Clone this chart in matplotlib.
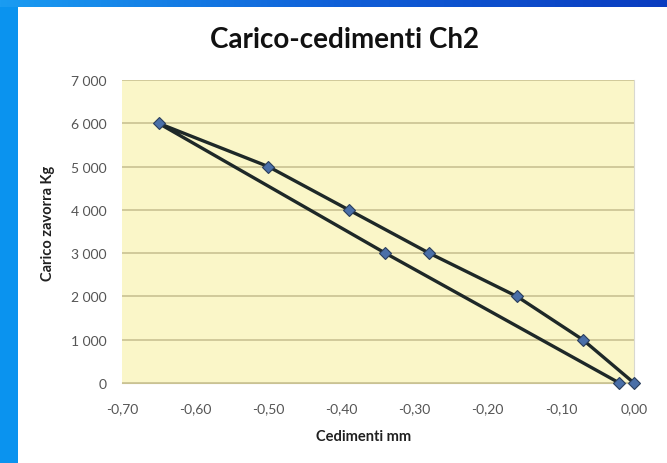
"""Carico-cedimenti Ch2: load vs settlement curve."""

import numpy as np
import matplotlib.pyplot as plt
from matplotlib.colors import LinearSegmentedColormap
from matplotlib.ticker import FuncFormatter

plt.rcParams['font.family'] = ['Lato', 'DejaVu Sans']

# settlement (mm) and ballast load (kg), loading then unloading
cedimenti = [0.00, -0.07, -0.16, -0.28, -0.39, -0.50, -0.65, -0.34, -0.02]
carico = [0, 1000, 2000, 3000, 4000, 5000, 6000, 3000, 0]

x_ticks = [-0.70, -0.60, -0.50, -0.40, -0.30, -0.20, -0.10, 0.00]
y_ticks = [0, 1000, 2000, 3000, 4000, 5000, 6000, 7000]


def fmt_x(v, _):
    return f"{v:.2f}".replace(".", ",").replace("-0,00", "0,00")


def fmt_y(v, _):
    return f"{int(v):,}".replace(",", " ")


fig = plt.figure(figsize=(6.67, 4.64), dpi=100)
fig.patch.set_facecolor("white")

# blue frame: left strip and gradient band on top
left = fig.add_axes([0, 0, 18 / 667, 1])
left.set_axis_off()
left.add_patch(plt.Rectangle((0, 0), 1, 1, color="#0a93ef", transform=left.transAxes))
top = fig.add_axes([0, 1 - 8 / 464, 1, 8 / 464])
top.set_axis_off()
grad = np.linspace(0, 1, 256)[None, :]
cm = LinearSegmentedColormap.from_list("band", ["#1a9cf2", "#1060d8", "#0a3cc0"])
top.imshow(grad, aspect="auto", cmap=cm, extent=(0, 1, 0, 1))

ax = fig.add_axes([122 / 667, 1 - 384 / 464, (634 - 122) / 667, (384 - 81) / 464])
ax.set_facecolor("#faf6c8")
ax.plot(cedimenti, carico, color="#1e2828", lw=2.4, marker="D", ms=6.5,
        mfc="#4a6fa8", mec="#2a3e5c", mew=0.8, zorder=3, clip_on=False)

ax.set_xlim(-0.70, 0.00)
ax.set_ylim(0, 7000)
ax.set_xticks(x_ticks)
ax.set_yticks(y_ticks)
ax.xaxis.set_major_formatter(FuncFormatter(fmt_x))
ax.yaxis.set_major_formatter(FuncFormatter(fmt_y))
ax.grid(axis="y", color="#c9c293", lw=1.2)
ax.set_axisbelow(True)
ax.tick_params(length=0, labelsize=10, colors="#555555")
ax.tick_params(axis="x", pad=14)
ax.tick_params(axis="y", pad=11)
for side in ("top", "left"):
    ax.spines[side].set_visible(False)
ax.spines["right"].set_color("#d8d8d0")
ax.spines["bottom"].set_color("#c9c293")

ax.set_xlabel("Cedimenti mm", fontsize=10.5, fontweight="bold", color="#202020", va="center")
ax.xaxis.set_label_coords((364 - 122) / 512, (384 - 437) / 303)
ax.set_ylabel("Carico zavorra Kg", fontsize=10.5, fontweight="bold", color="#202020", va="center")
ax.yaxis.set_label_coords((48 - 122) / 512, (384 - 223) / 303)
fig.text(345 / 667, 1 - 40 / 464, "Carico-cedimenti Ch2", ha="center", va="center",
         fontsize=20, fontweight="bold", color="#111111")

fig.savefig("out.png", dpi=100)
